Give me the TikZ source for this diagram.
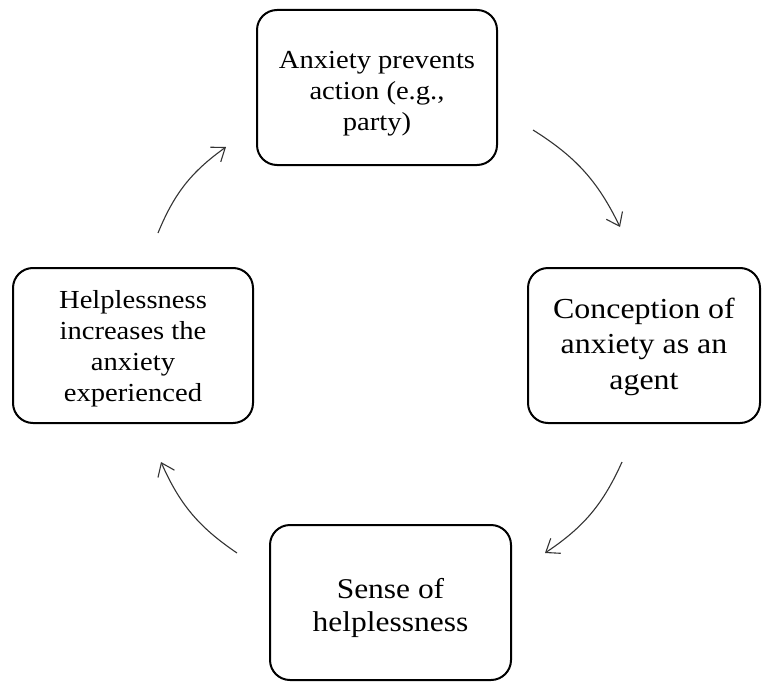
\documentclass[tikz,border=0pt]{standalone}
\usepackage{fontspec}
\setmainfont{Liberation Serif}[FakeStretch=1.1]
\usetikzlibrary{arrows.meta}
\begin{document}
\begin{tikzpicture}[x=1pt,y=-1pt,
  stagebox/.style={draw=black, line width=2pt, rounded corners=20pt,
    inner sep=0pt, align=center, fill=white},
  stagetext/.style={align=center, inner sep=0pt},
  cyclearrow/.style={draw=black!80, line width=1.1pt, bend left=16,
    -{Straight Barb[length=12pt,width=18pt,line width=1.1pt]}}]
\useasboundingbox (0,0) rectangle (762,682);

% the four stages of the cycle
\node[stagebox, minimum width=240pt, minimum height=155pt] (action) at (377,87.5) {};
\node[stagebox, minimum width=232pt, minimum height=155pt] (agent) at (644,345.5) {};
\node[stagebox, minimum width=241pt, minimum height=155pt] (sense) at (390.5,602.5) {};
\node[stagebox, minimum width=240pt, minimum height=155pt] (increase) at (133,345.5) {};

% their texts
\node[stagetext, font={\fontsize{26}{31}\selectfont}]
  (actiontext) at ([yshift=-6pt]action.center) {Anxiety prevents\\action (e.g.,\\party)};
\node[stagetext, font={\fontsize{29}{35.5}\selectfont}]
  (agenttext) at ([yshift=-1pt]agent.center) {Conception of\\anxiety as an\\agent};
\node[stagetext, font={\fontsize{28.6}{33}\selectfont}]
  (sensetext) at ([yshift=-5pt]sense.center) {Sense of\\helplessness};
\node[stagetext, font={\fontsize{26}{31}\selectfont}]
  (increasetext) at ([yshift=-3pt]increase.center) {Helplessness\\increases the\\anxiety\\experienced};

% arrow ends between the stages
\coordinate (a1) at (533,130);
\coordinate (a2) at (620,227);
\coordinate (b1) at (622,462);
\coordinate (b2) at (545,553);
\coordinate (c1) at (237,553);
\coordinate (c2) at (161,462);
\coordinate (d1) at (158,233);
\coordinate (d2) at (226,147);

\draw[cyclearrow] (a1) to (a2);
\draw[cyclearrow] (b1) to (b2);
\draw[cyclearrow] (c1) to (c2);
\draw[cyclearrow] (d1) to (d2);
\end{tikzpicture}
\end{document}
